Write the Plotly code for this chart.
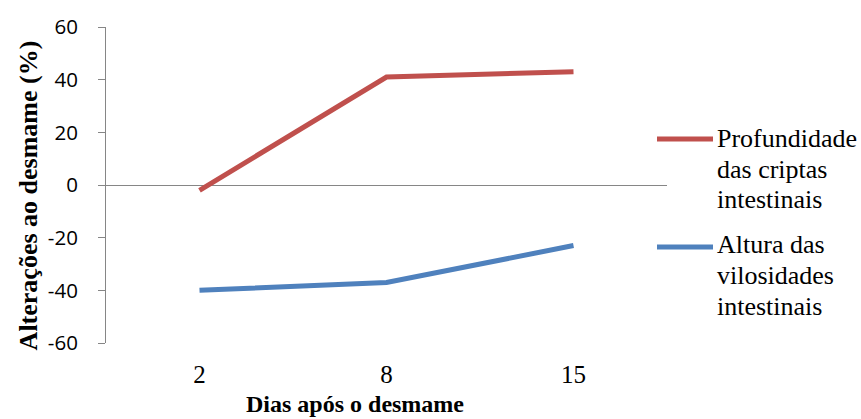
import plotly.graph_objects as go

# Days after weaning (categories) and percentage changes
dias = ["2", "8", "15"]
profundidade_criptas = [-2, 41, 43]
altura_vilosidades = [-40, -37, -23]

serie_nomes = ["Profundidade das criptas intestinais", "Altura das vilosidades intestinais"]
legenda_linhas = [["Profundidade", "das criptas", "intestinais"],
                  ["Altura das", "vilosidades", "intestinais"]]
cores = ["#C0504D", "#4F81BD"]

y_ticks = [-60, -40, -20, 0, 20, 40, 60]
y_tick_text = ["-60", "-40", "-20", "0", "20", "40", "60"]

W, H = 861, 419
L, R, T, B = 106, 194, 24, 76
plot_w, plot_h = W - L - R, H - T - B


def px_x(px):
    return (px - L) / plot_w


def px_y(py):
    return (H - B - py) / plot_h


SERIF = "Liberation Serif"

fig = go.Figure()
for nome, vals, cor in zip(serie_nomes, [profundidade_criptas, altura_vilosidades], cores):
    fig.add_trace(go.Scatter(
        x=dias, y=vals, name=nome, mode="lines",
        line=dict(color=cor, width=5),
        showlegend=False,
    ))

annotations = []
shapes = []
# Hand-laid legend: coloured key line plus three text lines per series
legend_line_y = [137, 246]
legend_text_y = [[137, 168, 198], [244, 275, 306]]
for cor, ly, linhas, tys in zip(cores, legend_line_y, legenda_linhas, legend_text_y):
    shapes.append(dict(type="line", xref="paper", yref="paper",
                       x0=px_x(657), x1=px_x(713), y0=px_y(ly), y1=px_y(ly),
                       line=dict(color=cor, width=5)))
    for txt, ty in zip(linhas, tys):
        annotations.append(dict(text=txt, xref="paper", yref="paper",
                                x=px_x(715), y=px_y(ty), xanchor="left", yanchor="middle",
                                showarrow=False,
                                font=dict(family=SERIF, size=26, color="#000000")))

# Axis titles
annotations.append(dict(text="<b>Alterações ao desmame (%)</b>", xref="paper", yref="paper",
                        x=px_x(28), y=px_y(194), xanchor="center", yanchor="middle",
                        textangle=-90, showarrow=False,
                        font=dict(family=SERIF, size=26, color="#000000")))
annotations.append(dict(text="<b>Dias após o desmame</b>", xref="paper", yref="paper",
                        x=px_x(355), y=px_y(405), xanchor="center", yanchor="middle",
                        showarrow=False,
                        font=dict(family=SERIF, size=24, color="#000000")))

fig.update_layout(
    width=W, height=H,
    margin=dict(l=L, r=R, t=T, b=B, pad=0),
    plot_bgcolor="white", paper_bgcolor="white",
    annotations=annotations, shapes=shapes,
    xaxis=dict(
        type="category", range=[-0.5, 2.5],
        showline=False, showgrid=False, zeroline=False, ticks="",
        tickfont=dict(family=SERIF, size=25, color="#000000"),
        ticklabelstandoff=14,
    ),
    yaxis=dict(
        range=[-60, 60], tickvals=y_ticks, ticktext=y_tick_text,
        showline=True, linecolor="#868686", linewidth=1,
        ticks="outside", ticklen=7, tickcolor="#868686", tickwidth=1,
        showgrid=False,
        zeroline=True, zerolinecolor="#868686", zerolinewidth=1,
        tickfont=dict(family="Open Sans", size=20.5, color="#000000"),
        ticklabelstandoff=16,
    ),
)

fig.write_html("out.html")
